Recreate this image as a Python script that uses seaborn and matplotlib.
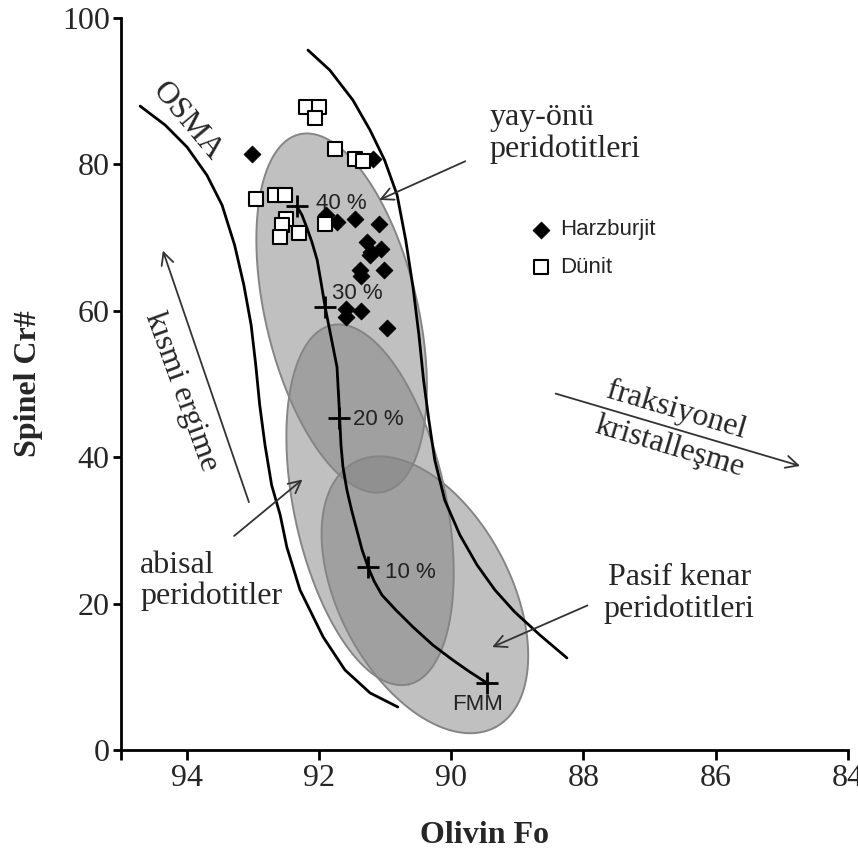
import numpy as np
import pandas as pd
import matplotlib
matplotlib.use('Agg')
import matplotlib.pyplot as plt
import seaborn as sns

# Harzburjit (dolu baklava) ve Dunit (bos kare) noktalari
harz_fo = [93.01, 91.19, 91.89, 91.73, 91.46, 91.10, 91.28, 91.21, 91.06, 91.23,
           91.02, 91.38, 91.36, 91.59, 91.36, 91.59, 90.97]
harz_cr = [81.5, 80.8, 73.1, 72.2, 72.5, 71.9, 69.4, 68.1, 68.4, 67.6,
           65.6, 65.6, 64.7, 60.3, 60.0, 59.1, 57.7]
dun_fo = [92.20, 92.00, 92.07, 91.76, 91.46, 91.33, 92.95, 92.67, 92.52, 91.91,
          92.50, 92.57, 92.30, 92.60]
dun_cr = [87.8, 87.8, 86.4, 82.1, 80.7, 80.5, 75.3, 75.8, 75.8, 71.9,
          72.6, 71.7, 70.6, 70.1]

# OSMA sinir egrileri
osma_left_fo = [94.71, 94.33, 94.00, 93.70, 93.47, 93.28, 93.14, 93.03, 92.96, 92.90,
                92.82, 92.72, 92.59, 92.49, 92.29, 91.94, 91.61, 91.23, 90.81]
osma_left_cr = [87.98, 85.38, 82.38, 78.55, 74.45, 68.99, 63.52, 58.06, 52.60, 47.13,
                41.67, 36.20, 32.10, 27.73, 21.86, 15.44, 10.93, 7.79, 5.87]
osma_right_fo = [92.17, 91.84, 91.49, 91.23, 91.01, 90.82, 90.69, 90.58, 90.49, 90.42,
                 90.34, 90.25, 90.10, 89.87, 89.61, 89.34, 89.04, 88.66, 88.25]
osma_right_cr = [95.63, 92.90, 88.80, 84.70, 80.60, 75.82, 69.67, 63.25, 56.69, 50.55,
                 45.08, 39.62, 34.15, 29.37, 25.27, 21.86, 18.85, 15.71, 12.57]

# Ergime egrisi (%40 -> FMM)
melt_fo = [92.34, 92.26, 92.19, 92.11, 92.03, 91.97, 91.91, 91.82, 91.73, 91.70,
           91.70, 91.67, 91.64, 91.58, 91.51, 91.43, 91.35, 91.26, 91.17, 91.05,
           90.84, 90.58, 90.28, 89.98, 89.72, 89.46]
melt_cr = [74.32, 73.09, 71.45, 69.40, 66.94, 63.80, 60.52, 56.42, 52.32, 49.18,
           45.36, 41.67, 38.66, 35.52, 32.79, 30.05, 27.32, 25.00, 23.09, 21.17,
           19.13, 16.80, 14.34, 12.30, 10.66, 9.15]
step_fo = [92.34, 91.91, 91.70, 91.26, 89.46]
step_cr = [74.3, 60.5, 45.4, 25.0, 9.2]
step_lab = ['40 %', '30 %', '20 %', '10 %', 'FMM']
step_lab_fo = [92.05, 91.81, 91.49, 91.01, 89.60]
step_lab_cr = [74.7, 62.4, 45.1, 24.3, 6.2]

# Alanlar (yay-onu, abisal, pasif kenar): merkez, yari uzunluk, yari genislik, egim
ell_names = ['yay-önü', 'abisal', 'pasif kenar']
ell_fo = [91.66, 91.23, 90.40]
ell_cr = [59.7, 33.5, 21.2]
ell_len = [25.1, 25.1, 20.5]
ell_wid = [10.4, 10.4, 11.7]
ell_tilt = [13.3, 12.0, 28.0]

serif = 'Liberation Serif'
sans = 'Liberation Sans'

sns.set_style('ticks')
plt.rcParams['font.family'] = [serif, 'DejaVu Serif']

fig = plt.figure(figsize=(8.58, 8.63), dpi=100)
ax = fig.add_axes([0.141, 0.131, 0.847, 0.848])
ax.set_xlim(95, 84)
ax.set_ylim(0, 100)

# gorsel oran (1 Fo birimi kac Cr# birimine karsilik gelir)
ax_w = 0.847 * 8.58
ax_h = 0.848 * 8.63
ratio = (ax_w / 11) / (ax_h / 100)

t = np.linspace(0, 2 * np.pi, 300)
for cx, cy, L, W, a in zip(ell_fo, ell_cr, ell_len, ell_wid, ell_tilt):
    th = np.radians(a)
    u = -cx * ratio + L * np.cos(t) * np.sin(th) + W * np.sin(t) * np.cos(th)
    v = cy - L * np.cos(t) * np.cos(th) + W * np.sin(t) * np.sin(th)
    ax.fill(-u / ratio, v, color='#808080', alpha=0.49, lw=0, zorder=1)
    ax.plot(-u / ratio, v, color='#858585', lw=1.4, zorder=1.5)

sns.lineplot(x=osma_left_fo, y=osma_left_cr, sort=False, color='black', lw=2, ax=ax, zorder=2)
sns.lineplot(x=osma_right_fo, y=osma_right_cr, sort=False, color='black', lw=2, ax=ax, zorder=2)
sns.lineplot(x=melt_fo, y=melt_cr, sort=False, color='black', lw=2, ax=ax, zorder=2)
ax.plot(step_fo, step_cr, ls='none', marker='+', ms=16, mew=2, color='black', zorder=3)
for fo, cr, lab in zip(step_lab_fo, step_lab_cr, step_lab):
    ha = 'center' if lab == 'FMM' else 'left'
    ax.text(fo, cr, lab, ha=ha, va='center', fontsize=16, family=sans, color='#222222', zorder=3)

pts = pd.DataFrame({
    'Fo': harz_fo + dun_fo,
    'Cr': harz_cr + dun_cr,
    'Tip': ['Harzburjit'] * len(harz_fo) + ['Dünit'] * len(dun_fo),
})
sns.scatterplot(data=pts[pts.Tip == 'Harzburjit'], x='Fo', y='Cr', marker='D', s=75,
                color='black', edgecolor='black', linewidth=0.5, label='Harzburjit', ax=ax, zorder=4)
sns.scatterplot(data=pts[pts.Tip == 'Dünit'], x='Fo', y='Cr', marker='s', s=110,
                facecolor='white', edgecolor='black', linewidth=1.5, label='Dünit', ax=ax, zorder=4)

leg = ax.legend(loc='upper left', bbox_to_anchor=(0.562, 0.725), frameon=False,
                handlelength=1.0, handletextpad=0.4, labelspacing=0.75, borderpad=0,
                borderaxespad=0, prop={'family': sans, 'size': 16})

# ok ve aciklamalar
arr = dict(arrowstyle='->', color='#333333', lw=1.3, mutation_scale=22)
ax.annotate('', xy=(91.13, 75.0), xytext=(89.75, 80.6), arrowprops=arr)
ax.annotate('', xy=(94.38, 68.6), xytext=(93.05, 33.5), arrowprops=arr)
ax.annotate('', xy=(84.68, 38.7), xytext=(88.46, 48.8), arrowprops=arr)
ax.annotate('', xy=(92.22, 37.2), xytext=(93.32, 29.0), arrowprops=arr)
ax.annotate('', xy=(89.42, 13.9), xytext=(87.90, 19.9), arrowprops=arr)

fs = 23
ax.text(93.99, 85.8, 'OSMA', rotation=-50, rotation_mode='anchor', ha='center', va='center', fontsize=fs)
ax.text(89.42, 88.4, 'yay-önü\nperidotitleri', ha='left', va='top', fontsize=fs, linespacing=1.1)
ax.text(94.71, 23.1, 'abisal\nperidotitler', ha='left', va='center', fontsize=fs, linespacing=1.1)
ax.text(86.55, 21.4, 'Pasif kenar\nperidotitleri', ha='center', va='center', fontsize=fs,
        linespacing=1.1, multialignment='center')
ax.text(86.59, 46.4, 'fraksiyonel', rotation=-16.5, rotation_mode='anchor', ha='center', va='center', fontsize=fs)
ax.text(86.69, 41.4, 'kristalleşme', rotation=-16.5, rotation_mode='anchor', ha='center', va='center', fontsize=fs)
ax.text(94.09, 48.9, 'kısmi ergime', rotation=-70, rotation_mode='anchor', ha='center', va='center', fontsize=fs)

ax.set_xticks([94, 92, 90, 88, 86, 84])
ax.set_xticks([95], minor=True)
ax.set_yticks([0, 20, 40, 60, 80, 100])
ax.tick_params(axis='x', which='both', direction='out', length=7, width=2, labelsize=23, pad=3, color='black')
ax.tick_params(axis='y', which='both', direction='out', length=6, width=2, labelsize=23, pad=2, color='black')
ax.set_xlabel('Olivin Fo', fontsize=23, fontweight='bold', labelpad=20)
ax.set_ylabel('Spinel Cr#', fontsize=23, fontweight='bold', labelpad=14)
for s in ['top', 'right']:
    ax.spines[s].set_visible(False)
for s in ['left', 'bottom']:
    ax.spines[s].set_linewidth(2)
    ax.spines[s].set_color('black')

fig.savefig('out.png', dpi=100)
